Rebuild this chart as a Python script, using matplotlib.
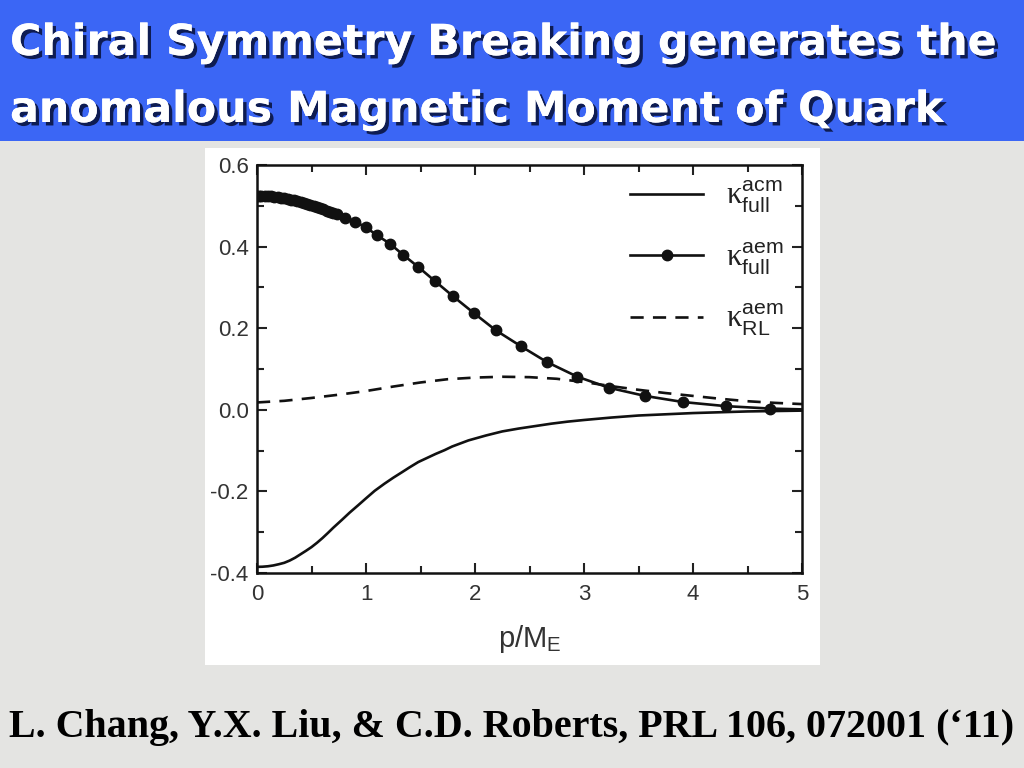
import matplotlib
matplotlib.use("Agg")
import matplotlib.pyplot as plt
import matplotlib.patheffects as pe
from matplotlib.patches import Rectangle
from matplotlib.ticker import MultipleLocator

# ---- data ----
acm_full_x = [0.0, 0.05, 0.1, 0.15, 0.2, 0.25, 0.3, 0.35, 0.4, 0.45, 0.5, 0.55, 0.6,
              0.65, 0.7, 0.78, 0.85, 0.93, 1.0, 1.08, 1.17, 1.25, 1.33, 1.4, 1.48, 1.56,
              1.64, 1.72, 1.79, 1.87, 1.94, 2.02, 2.1, 2.25, 2.4, 2.55, 2.7, 2.85, 3.0,
              3.25, 3.5, 3.75, 4.0, 4.25, 4.5, 4.75, 5.0]
acm_full_y = [-0.385, -0.3846, -0.3835, -0.3815, -0.3785, -0.375, -0.3695, -0.3625,
              -0.354, -0.3455, -0.3365, -0.326, -0.3145, -0.302, -0.289, -0.2695, -0.252,
              -0.2335, -0.217, -0.1985, -0.181, -0.1665, -0.153, -0.141, -0.128, -0.118,
              -0.108, -0.099, -0.090, -0.082, -0.075, -0.069, -0.063, -0.053, -0.046,
              -0.040, -0.034, -0.029, -0.025, -0.019, -0.014, -0.011, -0.008, -0.006,
              -0.004, -0.003, -0.002]

aem_full_x = [0.0, 0.02, 0.04, 0.07, 0.10, 0.13, 0.16, 0.19, 0.22, 0.25, 0.28, 0.31,
              0.34, 0.37, 0.40, 0.43, 0.46, 0.49, 0.52, 0.55, 0.58, 0.61, 0.64, 0.67,
              0.70, 0.733, 0.81, 0.90, 1.00, 1.10, 1.22, 1.34, 1.48, 1.63, 1.80, 1.99,
              2.19, 2.42, 2.66, 2.94, 3.23, 3.56, 3.91, 4.30, 4.71]
aem_full_y = [0.525, 0.525, 0.525, 0.524, 0.524, 0.523, 0.522, 0.521, 0.520, 0.518,
              0.517, 0.515, 0.513, 0.511, 0.509, 0.507, 0.504, 0.502, 0.499, 0.497,
              0.494, 0.491, 0.488, 0.485, 0.482, 0.479, 0.471, 0.461, 0.447, 0.428,
              0.407, 0.380, 0.350, 0.316, 0.278, 0.237, 0.195, 0.156, 0.117, 0.081,
              0.054, 0.034, 0.019, 0.009, 0.003]
aem_full_x_end = [4.71, 5.0]
aem_full_y_end = [0.003, 0.001]

aem_rl_x = [0.0, 0.25, 0.5, 0.75, 1.0, 1.25, 1.5, 1.75, 2.0, 2.25, 2.5, 2.75, 3.0,
            3.25, 3.5, 3.75, 4.0, 4.25, 4.5, 4.75, 5.0]
aem_rl_y = [0.018, 0.022, 0.029, 0.037, 0.046, 0.057, 0.067, 0.075, 0.079, 0.081,
            0.080, 0.076, 0.068, 0.058, 0.049, 0.041, 0.034, 0.027, 0.021, 0.017, 0.014]

x_ticks = [0, 1, 2, 3, 4, 5]
y_ticks = [-0.4, -0.2, 0.0, 0.2, 0.4, 0.6]
y_ticklabels = ["-0.4", "-0.2", "0.0", "0.2", "0.4", "0.6"]

title_lines = ["Chiral Symmetry Breaking generates the",
               "anomalous Magnetic Moment of Quark"]
citation = "L. Chang, Y.X. Liu, & C.D. Roberts, PRL 106, 072001 (\u201811)"

plt.rcParams["mathtext.fontset"] = "custom"
plt.rcParams["mathtext.rm"] = "Liberation Sans"
plt.rcParams["mathtext.it"] = "Liberation Sans:italic"
plt.rcParams["mathtext.bf"] = "Liberation Sans:bold"
plt.rcParams["mathtext.sf"] = "Liberation Serif"

W, H = 1024, 768
fig = plt.figure(figsize=(W / 100, H / 100), dpi=100)
fig.patch.set_facecolor("#e4e4e2")

# banner
fig.patches.append(Rectangle((0, 1 - 141 / H), 1, 141 / H, transform=fig.transFigure,
                             facecolor="#3b66f5", edgecolor="none", zorder=-10))
# white panel behind chart
fig.patches.append(Rectangle((205 / W, 1 - 665 / H), (820 - 205) / W, (665 - 148) / H,
                             transform=fig.transFigure, facecolor="white",
                             edgecolor="none", zorder=-10))

shadow = [pe.withSimplePatchShadow(offset=(2.5, -2.5), shadow_rgbFace="#0a1440", alpha=0.9),
          pe.Normal()]
title_baselines = [55, 122]
for line, yb in zip(title_lines, title_baselines):
    fig.text(10 / W, 1 - yb / H, line, color="white", fontsize=30.8,
             fontweight="bold", family="DejaVu Sans", va="baseline", ha="left",
             path_effects=shadow)

fig.text(0.5, 1 - 737 / H, citation, color="black", fontsize=28.8,
         fontweight="bold", family="Liberation Serif", va="baseline", ha="center")

ax = fig.add_axes([257 / W, 1 - 573 / H, (802 - 257) / W, (573 - 165) / H])
ax.set_facecolor("white")

ax.plot(acm_full_x, acm_full_y, color="#111111", lw=1.9, ls="-",
        label=r"$\mathsf{\kappa}^{\mathrm{acm}}_{\mathrm{full}}$")
ax.plot(aem_full_x, aem_full_y, color="#111111", lw=1.9, ls="-", marker="o",
        markersize=7.5, label=r"$\mathsf{\kappa}^{\mathrm{aem}}_{\mathrm{full}}$")
ax.plot(aem_full_x_end, aem_full_y_end, color="#111111", lw=1.9, ls="-")
ax.plot(aem_rl_x, aem_rl_y, color="#111111", lw=1.9, ls=(0, (5, 3.5)),
        label=r"$\mathsf{\kappa}^{\mathrm{aem}}_{\mathrm{RL}}$")

ax.set_xlim(0, 5)
ax.set_ylim(-0.4, 0.6)
ax.set_xticks(x_ticks)
ax.set_yticks(y_ticks)
ax.set_yticklabels(y_ticklabels)
ax.xaxis.set_minor_locator(MultipleLocator(0.5))
ax.yaxis.set_minor_locator(MultipleLocator(0.1))
ax.tick_params(which="both", direction="in", top=True, right=True, colors="#222222",
               labelcolor="#333333", labelsize=16, width=1.5)
ax.tick_params(which="major", length=7)
ax.tick_params(which="minor", length=5)
ax.tick_params(axis="x", which="major", pad=8)
ax.tick_params(axis="y", which="major", pad=6)
for lab in ax.get_xticklabels() + ax.get_yticklabels():
    lab.set_family("Liberation Sans")
for s in ax.spines.values():
    s.set_linewidth(1.8)
    s.set_color("#111111")
ax.set_xlabel(r"p/M$_\mathrm{E}$", fontsize=21, color="#333333", labelpad=13,
              family="Liberation Sans")

leg = ax.legend(loc="upper left", frameon=False, fontsize=22, handlelength=2.4,
                labelspacing=0.82, numpoints=1, borderaxespad=0.0, borderpad=0.0,
                handletextpad=0.75, bbox_to_anchor=((630 - 257) / (802 - 257), 1 - 14 / 408))
for t in leg.get_texts():
    t.set_color("#222222")

fig.savefig("out.png", dpi=100, facecolor=fig.get_facecolor())
